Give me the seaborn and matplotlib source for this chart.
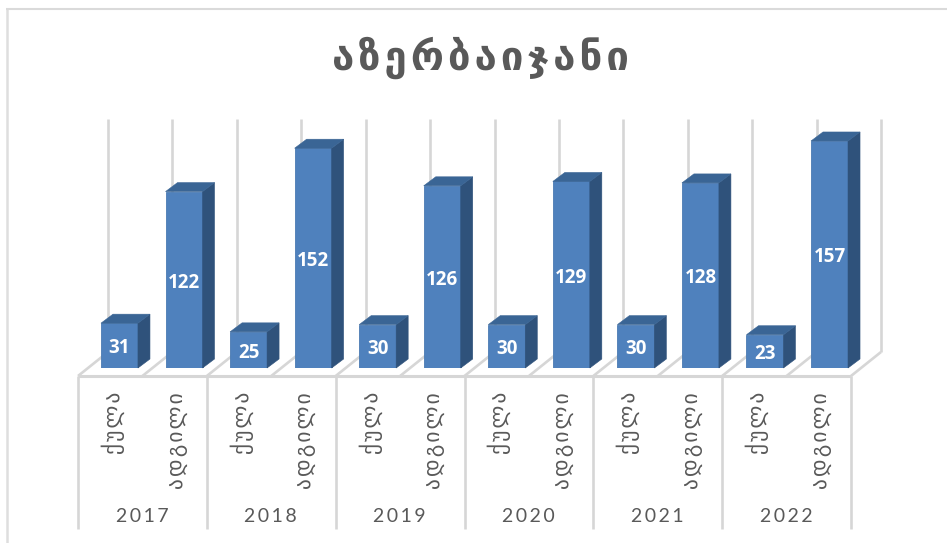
import matplotlib
matplotlib.use("Agg")
import matplotlib.pyplot as plt
from matplotlib.patches import Polygon
from matplotlib.lines import Line2D
import pandas as pd
import seaborn as sns

TITLE = "აზერბაიჯანი"
YEARS = ["2017", "2018", "2019", "2020", "2021", "2022"]
METRICS = ["ქულა", "ადგილი"]
SCORE = [31, 25, 30, 30, 30, 23]
RANK = [122, 152, 126, 129, 128, 157]

W, H = 947, 543
BASE_PX, TOP_PX = 368, 119
L_PX, R_PX = 87.2, 861.8
YMAX = (BASE_PX - TOP_PX) / 1.446
DEPTH_X, DEPTH_Y = 12, 9
GRID = "#D6D6D6"
TXT = "#595959"

rows = []
for i, y in enumerate(YEARS):
    rows.append((f"{y}-0", y, METRICS[0], SCORE[i]))
    rows.append((f"{y}-1", y, METRICS[1], RANK[i]))
df = pd.DataFrame(rows, columns=["key", "year", "metric", "value"])

sns.set_theme(style="white")
fig = plt.figure(figsize=(W / 100, H / 100), dpi=100, facecolor="white")

# pixel overlay for the chart furniture
bg = fig.add_axes([0, 0, 1, 1], zorder=0)
bg.set_xlim(0, W)
bg.set_ylim(H, 0)
bg.axis("off")

def line(xs, ys, lw=1.9, c=GRID):
    bg.add_line(Line2D(xs, ys, lw=lw, color=c, solid_capstyle="butt"))

# frame
line([7, 7], [8.5, H], lw=1.8, c="#DEDEDE")
line([6, W], [8.5, 8.5], lw=1.5, c="#DADADA")

# back wall gridlines and floor
FRONT0, STEP = 78.0, (851.0 - 78.0) / 12
FY, BY = 376, 352
BX = 31
for i in range(13):
    xf = FRONT0 + STEP * i
    line([xf, xf + BX - 1], [FY, BY])
    line([xf + BX - 1, xf + BX - 1], [BY, TOP_PX])
line([FRONT0, 851], [FY, FY], lw=2.2)
for i in range(7):
    xf = FRONT0 + STEP * 2 * i
    line([xf, xf], [FY, 529], lw=1.9)

ax = fig.add_axes([L_PX / W, 1 - BASE_PX / H, (R_PX - L_PX) / W, (BASE_PX - TOP_PX) / H], zorder=2)
ax.patch.set_alpha(0)
sns.barplot(data=df, x="key", y="value", order=list(df["key"]), color="#4F81BD",
            saturation=1, width=0.573, ax=ax, edgecolor="#4A7AB2", linewidth=0.6)
ax.set_xlim(-0.5, 11.5)
ax.set_ylim(0, YMAX)
ax.axis("off")

dx = DEPTH_X / ((R_PX - L_PX) / 12)
dy = DEPTH_Y / 1.446
for p, v in zip(ax.patches, df["value"]):
    x0 = p.get_x()
    x1 = x0 + p.get_width()
    ax.add_patch(Polygon([(x1, 0), (x1 + dx, dy), (x1 + dx, v + dy), (x1, v)],
                         closed=True, fc="#2F527B", ec="#2F527B", lw=0.4, clip_on=False, zorder=3))
    ax.add_patch(Polygon([(x0, v), (x0 + dx, v + dy), (x1 + dx, v + dy), (x1, v)],
                         closed=True, fc="#3A6595", ec="#3A6595", lw=0.4, clip_on=False, zorder=3))
    ax.annotate(str(v), (x0 + p.get_width() / 2, v / 2), xytext=(0, -2), textcoords="offset points",
                color="white", fontsize=13.5, fontweight="bold",
                family="Open Sans", ha="center", va="center", zorder=5)

# category and year labels
for i, m in enumerate(df["metric"]):
    bg.text(FRONT0 + STEP * (i + 0.5) + 3, 392, "\u200a".join(m), rotation=90, ha="center", va="top",
            fontsize=15.5, color=TXT, family="DejaVu Sans")
for i, y in enumerate(YEARS):
    bg.text(FRONT0 + STEP * (2 * i + 1) - 0.5, 516, "\u2009".join(y), ha="center", va="center",
            fontsize=14, color=TXT, family="Lato")

fig.text(480 / W, 1 - 58 / H, "\u200a".join(TITLE), ha="center", va="center", fontsize=29,
         fontweight="bold", color=TXT, family="DejaVu Sans")

fig.savefig("out.png", dpi=100)
